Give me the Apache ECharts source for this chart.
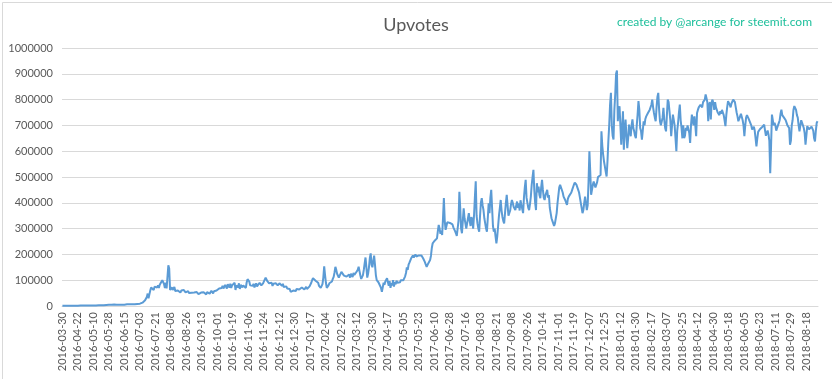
<!DOCTYPE html>
<html><head><meta charset="utf-8">
<script src="https://cdn.jsdelivr.net/npm/echarts@6/dist/echarts.min.js"></script>
<style>html,body{margin:0;padding:0;background:#fff}#c{width:832px;height:379px}</style>
</head><body><div id="c"></div>
<script>
// Tick labels shown on the x axis (every 18th category)
const tickLabels = ["2016-03-30","2016-04-22","2016-05-10","2016-05-28","2016-06-15","2016-07-03","2016-07-21","2016-08-08","2016-08-26","2016-09-13","2016-10-01","2016-10-19","2016-11-06","2016-11-24","2016-12-12","2016-12-30","2017-01-17","2017-02-04","2017-02-22","2017-03-12","2017-03-30","2017-04-17","2017-05-05","2017-05-23","2017-06-10","2017-06-28","2017-07-16","2017-08-03","2017-08-21","2017-09-08","2017-09-26","2017-10-14","2017-11-01","2017-11-19","2017-12-07","2017-12-25","2018-01-12","2018-01-30","2018-02-17","2018-03-07","2018-03-25","2018-04-12","2018-04-30","2018-05-18","2018-06-05","2018-06-23","2018-07-11","2018-07-29","2018-08-18"];
const yTicks = [0,100000,200000,300000,400000,500000,600000,700000,800000,900000,1000000];
const UNIT = 1000; // values below are in thousands of upvotes

// 2016-03-30 .. 2016-08-25
const upvotes2016a = [
0.6,0.8,0.7,0.9,1,0.8,1,1.1,0.9,1,1.2,1,1.1,1.3,1,1.2,1.4,1.2,
1.3,1.5,1.2,1.6,1.4,1.7,1.5,1.3,1.8,1.6,1.5,1.9,1.7,1.6,2,1.8,1.7,2.1,
2,2.2,1.9,2.4,2.1,2.3,2.6,2.2,2.5,2.8,2.4,2.7,3,2.6,3.5,4,3.2,3.8,
4.5,3.5,4,5,3.8,4.2,5.5,4,4.6,5,3.9,4.8,5.2,4.3,5.5,4.6,5,5.8,
5,6,5.5,6.5,5.2,6,7,5.8,6.2,6.8,6,7.2,6.5,7,7.5,8,7,8.5,
9,10,12,13,15,18,22,26,35,48,30,45,60,72,68,74,62,75,
70,78,72,80,70,82,88,76,100,95,85,70,90,68,75,158,145,62,
55,72,62,68,74,58,65,55,60,63,56,52,60,58,54,62,57,53];
// 2016-08-26 .. 2017-01-16
const upvotes2016b = [
55,52,58,50,48,54,51,49,45,52,47,50,54,51,46,50,48,52,
50,47,53,56,49,45,54,57,51,48,55,59,53,49,57,61,55,60,
62,58,68,72,65,70,78,68,74,82,76,68,84,79,72,86,70,80,
85,76,90,62,80,86,72,88,66,82,78,72,80,75,85,70,92,104,
106,95,80,76,84,78,86,72,80,88,76,83,78,90,86,80,76,88,
84,92,110,104,96,92,88,82,94,90,78,86,92,82,88,84,80,86,
88,82,90,78,86,74,80,70,76,68,72,62,66,55,48,52,60,56,
62,58,66,60,70,64,68,62,72,66,70,64,68,74,66,72,70,76];
// 2017-01-17 .. 2017-06-27
const upvotes2017a = [
80,90,100,108,113,105,98,102,100,90,78,72,70,75,85,110,154,120,
90,70,72,80,88,90,85,95,105,113,130,152,140,125,118,110,118,125,
132,139,128,118,112,120,114,108,116,122,110,125,118,112,128,120,115,130,
128,140,152,135,118,105,100,120,140,165,188,150,110,125,150,185,204,160,
150,175,195,160,120,100,95,92,98,88,70,55,72,90,82,95,88,108,
92,78,96,70,88,80,100,75,92,84,98,90,86,95,92,100,94,98,
100,105,115,128,150,140,160,168,172,185,190,196,188,194,200,192,186,194,
196,200,202,196,190,184,178,170,160,152,158,166,172,178,195,225,243,250,
252,256,258,262,290,314,300,280,292,275,340,418,330,295,310,325,318,327];
// 2017-06-28 .. 2018-01-11
const upvotes2017b = [
322,318,326,316,305,300,290,282,272,268,330,443,380,300,282,330,379,340,
320,300,307,340,360,330,310,345,333,300,350,420,483,350,320,300,288,350,
400,418,390,372,340,320,300,288,340,398,360,420,450,380,310,288,300,270,
243,270,310,350,380,411,370,345,330,320,360,400,431,390,350,345,370,395,
411,400,385,378,372,390,405,380,398,370,410,392,385,360,420,460,489,420,
400,380,372,395,424,470,500,528,450,400,372,476,440,463,430,418,460,489,
450,420,411,430,440,450,420,430,380,360,340,330,320,310,320,340,360,400,
430,460,470,465,470,440,424,430,410,400,392,415,424,430,424,440,450,455,
470,478,483,470,460,450,440,420,400,380,360,372,400,424,400,372,390,480,
600,520,431,450,470,483,470,460,457,480,500,495,505,508,677,620,586,560,
540,520,502,560,638,700,780,826,700,660,645,760,820,900,913,716,760,774];
// 2018-01-12 .. 2018-08-31
const upvotes2018 = [
700,625,690,755,606,680,723,660,612,650,703,680,658,700,723,690,677,660,
650,700,742,794,760,690,677,645,680,716,700,725,735,742,748,745,760,755,
780,800,770,748,730,716,770,810,826,760,716,700,697,730,768,720,690,677,
740,800,790,794,720,658,700,742,740,700,650,600,680,710,750,781,720,690,
650,700,651,660,690,680,700,703,670,632,700,742,720,700,735,700,658,748,
760,770,765,780,775,770,790,794,800,820,805,790,716,780,790,723,790,800,
785,760,790,770,768,750,755,740,755,745,760,750,740,720,697,740,770,794,
790,780,770,785,790,800,795,790,770,750,735,716,725,735,745,740,720,700,
658,700,730,740,735,725,730,720,700,684,690,695,680,650,619,650,675,680,
685,690,680,695,700,703,680,660,670,680,665,640,515,620,742,720,700,710,
700,680,690,700,710,720,745,761,740,735,730,725,720,710,700,695,690,625,
640,700,720,760,775,781,760,740,730,700,677,700,720,710,700,690,670,625,
660,697,690,685,680,690,695,697,680,650,638,680,710,716];

const values = [].concat(upvotes2016a, upvotes2016b, upvotes2017a, upvotes2017b, upvotes2018).map(v => Math.round(v * UNIT));

// Build daily category dates: each tick label starts a run of 18 consecutive days
const perTick = 18;
const categories = [];
for (let k = 0; k < tickLabels.length; k++) {
  const n = Math.min(perTick, values.length - k * perTick);
  const p = tickLabels[k].split('-').map(Number);
  for (let j = 0; j < n; j++) {
    const dt = new Date(Date.UTC(p[0], p[1] - 1, p[2] + j));
    categories.push(dt.toISOString().slice(0, 10));
  }
}

const chart = echarts.init(document.getElementById('c'), null, {renderer: 'canvas'});
chart.setOption({
  animation: false,
  backgroundColor: '#fff',
  title: [
    {text: 'Upvotes', left: 'center', top: 11,
     textStyle: {fontFamily: 'Lato', fontSize: 18, fontWeight: 'normal', color: '#595959'}},
    {text: 'created by @arcange for steemit.com', right: 15, top: 11,
     textStyle: {fontFamily: 'Lato', fontSize: 12, fontWeight: 'normal', color: '#1DBF9B'}}
  ],
  graphic: [{type: 'rect', left: 0, top: 0, shape: {width: 831, height: 378},
    style: {fill: 'none', stroke: '#D9D9D9', lineWidth: 1}, silent: true, z: -1}],
  grid: {left: 62, right: 14, top: 48, bottom: 73},
  xAxis: {
    type: 'category', data: categories, boundaryGap: true,
    axisLine: {lineStyle: {color: '#D9D9D9', width: 1}},
    axisTick: {show: false},
    axisLabel: {interval: perTick - 1, rotate: 90, color: '#595959', fontFamily: 'Lato', fontSize: 11, margin: 6},
    splitLine: {show: false}
  },
  yAxis: {
    type: 'value', min: yTicks[0], max: yTicks[yTicks.length - 1], interval: yTicks[1] - yTicks[0],
    axisLine: {show: false}, axisTick: {show: false},
    axisLabel: {color: '#595959', fontFamily: 'Lato', fontSize: 11, margin: 9, formatter: v => String(v)},
    splitLine: {lineStyle: {color: '#D9D9D9', width: 1}}
  },
  series: [{
    name: 'Upvotes', type: 'line', data: values, showSymbol: false, symbol: 'none',
    lineStyle: {color: '#5B9BD5', width: 2}, itemStyle: {color: '#5B9BD5'}
  }]
});
</script></body></html>
